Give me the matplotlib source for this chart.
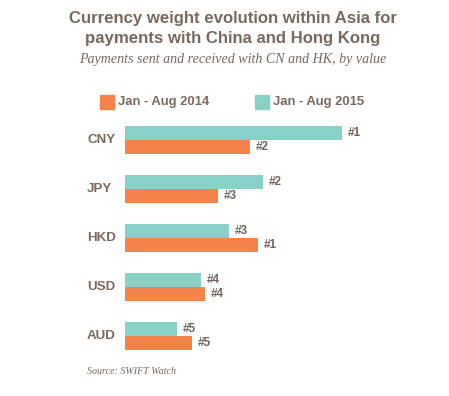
import matplotlib
matplotlib.use('Agg')
import matplotlib.pyplot as plt
import numpy as np

# Data (bar lengths, arbitrary units)
currencies = ['CNY', 'JPY', 'HKD', 'USD', 'AUD']
weight_2014 = [125, 93, 133, 80, 67]
weight_2015 = [217, 138, 104, 76, 52]
rank_2014 = ['#2', '#3', '#1', '#4', '#5']
rank_2015 = ['#1', '#2', '#3', '#4', '#5']
series_names = ['Jan - Aug 2014', 'Jan - Aug 2015']

orange = '#F4834A'
teal = '#88D1C7'
text_col = '#786960'

plt.rcParams['font.family'] = ['Liberation Sans', 'DejaVu Sans']

W, H = 449, 396
fig = plt.figure(figsize=(W / 100, H / 100), dpi=100)

# axes placed in pixel terms: bars start at x=125, rows centred every 49 px
ax = fig.add_axes([125 / W, 1 - 360.5 / H, 250 / W, 245 / H])
ax.set_xlim(0, 250)
ax.set_ylim(4.5, -0.5)
ax.axis('off')

y = np.arange(len(currencies))
h = 0.286
ax.barh(y - h / 2, weight_2015, height=h, color=teal)
ax.barh(y + h / 2, weight_2014, height=h, color=orange)

# rank labels at the bar ends
for i in range(len(currencies)):
    ax.annotate(rank_2015[i], (weight_2015[i], y[i] - h / 2), xytext=(4, 0),
                textcoords='offset points', va='center', ha='left',
                fontsize=8.5, fontweight='bold', color='#6e6560')
    ax.annotate(rank_2014[i], (weight_2014[i], y[i] + h / 2), xytext=(4, 0),
                textcoords='offset points', va='center', ha='left',
                fontsize=8.5, fontweight='bold', color='#6e6560')

# category labels (x in figure coords, y in data coords)
lab_trans = matplotlib.transforms.blended_transform_factory(fig.transFigure, ax.transData)
for i, c in enumerate(currencies):
    ax.text(87 / W, y[i], c, transform=lab_trans,
            ha='left', va='center', fontsize=9.6, fontweight='bold', color=text_col)

# titles
fig.text(233 / W, 1 - 19 / H, 'Currency weight evolution within Asia for',
         ha='center', va='center', fontsize=12.1, fontweight='bold', color=text_col)
fig.text(233 / W, 1 - 39 / H, 'payments with China and Hong Kong',
         ha='center', va='center', fontsize=12.1, fontweight='bold', color=text_col)
fig.text(233 / W, 1 - 60 / H, 'Payments sent and received with CN and HK, by value',
         ha='center', va='center', fontsize=10.1, fontstyle='italic',
         family=['Liberation Serif'], color=text_col)

# legend drawn by hand
for sx, col, name in [(100, orange, series_names[0]), (255, teal, series_names[1])]:
    fig.patches.append(plt.Rectangle((sx / W, 1 - 109 / H), 14 / W, 14 / H,
                                     transform=fig.transFigure, color=col))
    fig.text((sx + 18) / W, 1 - 102 / H, name, ha='left', va='center',
             fontsize=9.4, fontweight='bold', color=text_col)

fig.text(87 / W, 1 - 372 / H, 'Source: SWIFT Watch', ha='left', va='center',
         fontsize=7.2, fontstyle='italic', family=['Liberation Serif'], color=text_col)

fig.savefig('out.png', dpi=100, facecolor='white')
